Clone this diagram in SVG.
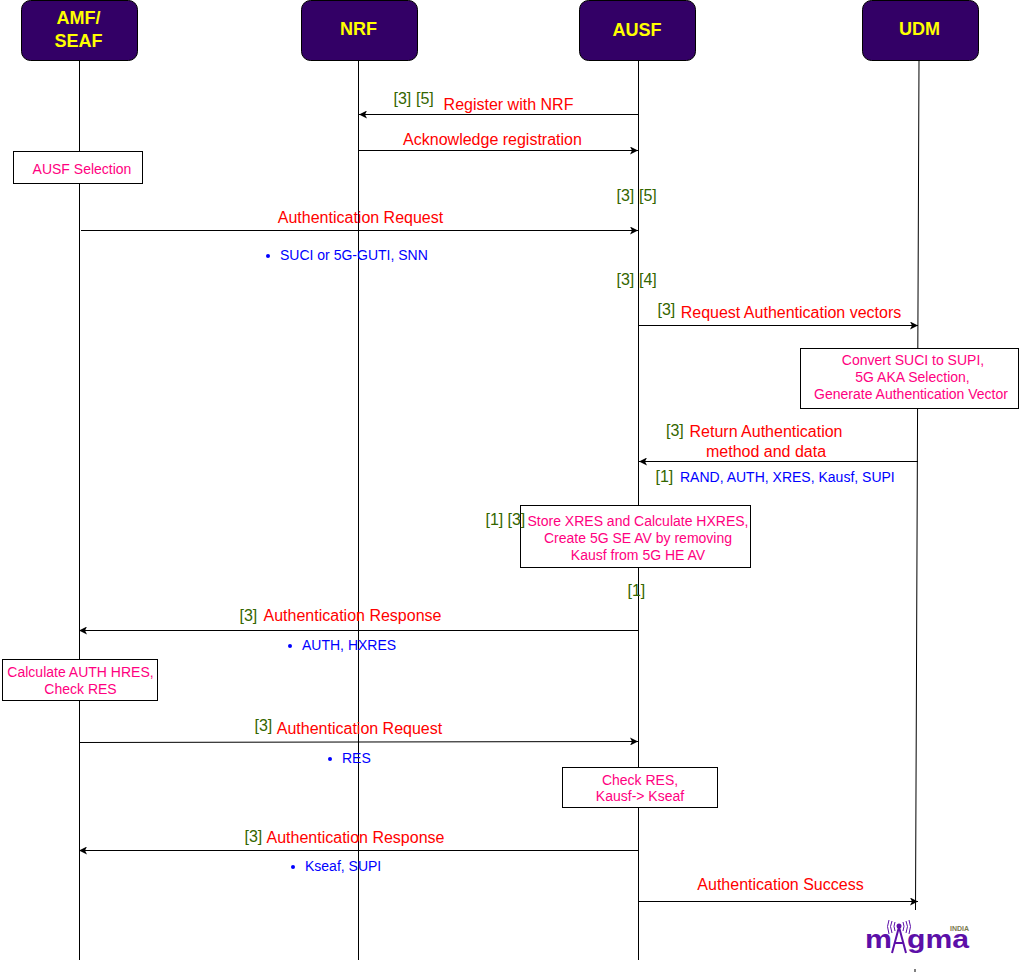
<svg xmlns="http://www.w3.org/2000/svg" width="1030" height="972" viewBox="0 0 1030 972">
<style>
text{font-family:"Liberation Sans",Arial,sans-serif;text-anchor:middle}
.h{fill:#ffff00;font-size:18px;font-weight:bold}
.node{fill:#330066;stroke:#000;stroke-width:1}
.life{stroke:#000;stroke-width:1;fill:none}
.msg{stroke:#000;stroke-width:1;fill:none;marker-end:url(#a)}
.box{fill:#fff;stroke:#000;stroke-width:1}
.r{fill:#ff0000;font-size:16px}
.g{fill:#336600;font-size:16px}
.p{fill:#ff0080;font-size:14px}
.b{fill:#0000ff;font-size:14px}
.s{text-anchor:start}
.l{fill:#5c0fa8;font-size:25px;font-weight:bold;text-anchor:start}
</style>
<defs>
<marker id="a" markerUnits="userSpaceOnUse" markerWidth="9" markerHeight="8" refX="8" refY="4" orient="auto"><path d="M0 0L8 4L0 8L2 4Z" fill="#000"/></marker>
</defs>
<rect width="1030" height="972" fill="#fff"/>
<g id="lifelines">
<path class="life" d="M79.500 60V960"/>
<path class="life" d="M358.500 60V960"/>
<path class="life" d="M638.500 60V960"/>
<path class="life" d="M919 60L915.500 910"/>
<path class="life" d="M915 969V972"/>
</g>
<g id="node-amf"><rect class="node" x="21.500" y="0.500" width="116" height="60" rx="9"/><text class="h" x="78.500" y="24">AMF/</text><text class="h" x="78.500" y="47">SEAF</text></g>
<g id="node-nrf"><rect class="node" x="301.500" y="0.500" width="116" height="60" rx="9"/><text class="h" x="358.500" y="35">NRF</text></g>
<g id="node-ausf"><rect class="node" x="579.500" y="0.500" width="116" height="60" rx="9"/><text class="h" x="637" y="36">AUSF</text></g>
<g id="node-udm"><rect class="node" x="862.500" y="0.500" width="116" height="60" rx="9"/><text class="h" x="919.500" y="35">UDM</text></g>
<g id="connectors">
<path class="msg" d="M638 114.500H359"/>
<path class="msg" d="M359 150.500H638"/>
<path class="msg" d="M81 230.500H638"/>
<path class="msg" d="M638 325.500H918"/>
<path class="msg" d="M918 461.500H639"/>
<path class="msg" d="M638 630.500H79"/>
<path class="msg" d="M79 742.500L638 741.500"/>
<path class="msg" d="M638 850.500H79"/>
<path class="msg" d="M638 901.500H918"/>
</g>
<g id="note-ausf-selection"><rect class="box" x="13.500" y="151.500" width="129" height="32"/><text class="p" x="82" y="174">AUSF Selection</text></g>
<g id="note-convert"><rect class="box" x="800.500" y="348.500" width="218" height="60"/><text class="p" x="913" y="365">Convert SUCI to SUPI,</text><text class="p" x="912.500" y="382">5G AKA Selection,</text><text class="p" x="911" y="399">Generate Authentication Vector</text></g>
<g id="note-store"><rect class="box" x="520.500" y="505.500" width="230" height="62"/><text class="p" x="638" y="526">Store XRES and Calculate HXRES,</text><text class="p" x="638" y="543">Create 5G SE AV by removing</text><text class="p" x="638" y="560">Kausf from 5G HE AV</text></g>
<g id="note-calc"><rect class="box" x="2.500" y="659.500" width="155" height="41"/><text class="p" x="80.500" y="677">Calculate AUTH HRES,</text><text class="p" x="80.500" y="694">Check RES</text></g>
<g id="note-check"><rect class="box" x="562.500" y="767.500" width="155" height="40"/><text class="p" x="640" y="785">Check RES,</text><text class="p" x="640" y="801">Kausf-&gt; Kseaf</text></g>
<g id="labels">
<text class="g s" x="393.500" y="104">[3]</text><text class="g s" x="416" y="104">[5]</text>
<text class="r" x="508.500" y="110">Register with NRF</text>
<text class="r" x="492.500" y="145">Acknowledge registration</text>
<text class="g s" x="616.500" y="201">[3]</text><text class="g s" x="639" y="201">[5]</text>
<text class="r" x="360.500" y="223">Authentication Request</text>
<circle cx="268" cy="256" r="2" fill="#0000ff"/><text class="b s" x="280" y="260">SUCI or 5G-GUTI, SNN</text>
<text class="g s" x="616.500" y="285">[3]</text><text class="g s" x="639" y="285">[4]</text>
<text class="g s" x="657.500" y="315">[3]</text>
<text class="r" x="791" y="318">Request Authentication vectors</text>
<text class="g s" x="666" y="436">[3]</text>
<text class="r" x="766" y="437">Return Authentication</text>
<text class="r" x="766" y="457">method and data</text>
<text class="g s" x="655.500" y="482">[1]</text>
<text class="b s" x="680" y="482">RAND, AUTH, XRES, Kausf, SUPI</text>
<text class="g s" x="485.500" y="525">[1]</text><text class="g s" x="507.500" y="525">[3]</text>
<text class="g s" x="627.500" y="596">[1]</text>
<text class="g s" x="239.500" y="621">[3]</text>
<text class="r" x="352.500" y="621">Authentication Response</text>
<circle cx="290" cy="646" r="2" fill="#0000ff"/><text class="b s" x="302" y="650">AUTH, HXRES</text>
<text class="g s" x="254.500" y="731">[3]</text>
<text class="r" x="359.500" y="734">Authentication Request</text>
<circle cx="330" cy="759" r="2" fill="#0000ff"/><text class="b s" x="342" y="763">RES</text>
<text class="g s" x="244.500" y="842">[3]</text>
<text class="r" x="355.500" y="843">Authentication Response</text>
<circle cx="293" cy="867" r="2" fill="#0000ff"/><text class="b s" x="305" y="871">Kseaf, SUPI</text>
<text class="r" x="780.500" y="890">Authentication Success</text>
</g>
<g id="logo">
<text class="l" x="865" y="948" textLength="27" lengthAdjust="spacingAndGlyphs">m</text>
<text class="l" x="907" y="948" textLength="62" lengthAdjust="spacingAndGlyphs">gma</text>
<text x="959.500" y="923" font-size="7" font-weight="bold" fill="#7a7a50" transform="translate(0 8)">INDIA</text>
<path d="M899 927L892 953M899 927L906 953M895 943H903" stroke="#5c0fa8" stroke-width="2" fill="none"/>
<circle cx="899" cy="926" r="2.500" fill="#5c0fa8"/>
<path d="M895 922Q893 926 895 931M892 921Q889 926 892 933M889 920Q886 926 889 934M903 922Q905 926 903 931M906 921Q909 926 906 933M909 920Q912 926 909 934" stroke="#5c0fa8" stroke-width="1" fill="none"/>
</g>
</svg>
